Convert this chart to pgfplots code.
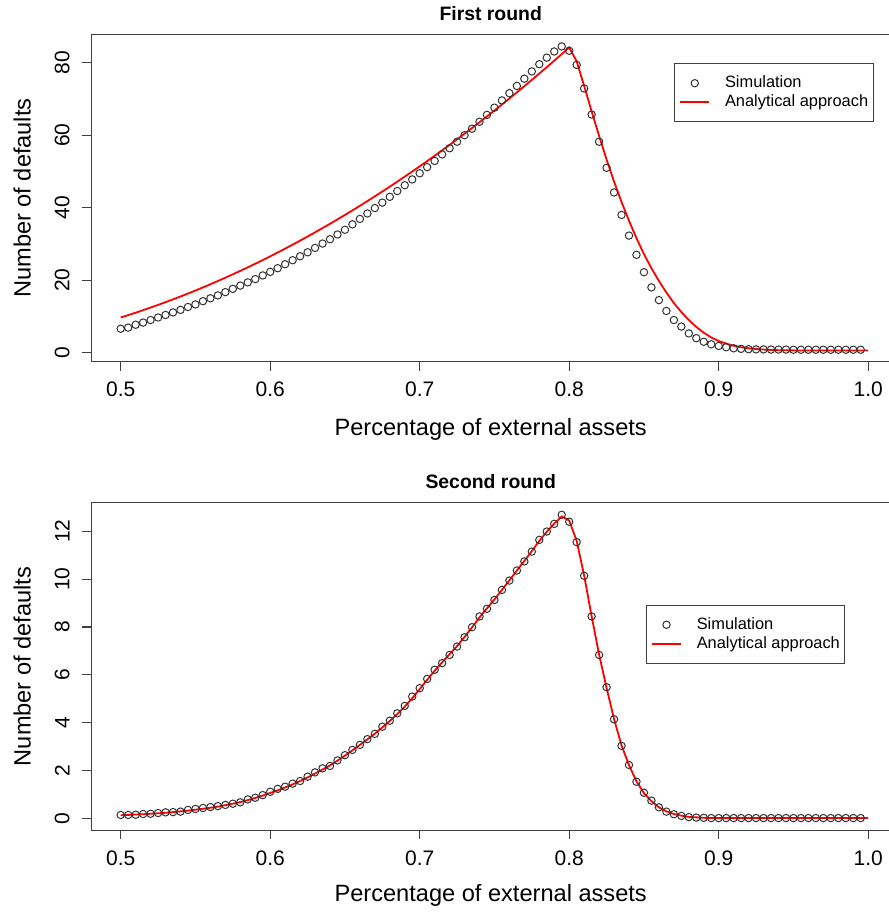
\documentclass[border=0pt]{standalone}
\usepackage{pgfplots}
\pgfplotsset{compat=1.18}
\usepackage{pgfplotstable}
\usepackage{fontspec}
\setmainfont{Liberation Sans}

\pgfplotstableread{
x y
0.500 6.6
0.505 6.9
0.510 7.7
0.515 8.3
0.520 9.0
0.525 9.7
0.530 10.4
0.535 11.1
0.540 11.8
0.545 12.6
0.550 13.3
0.555 14.2
0.560 15.0
0.565 15.8
0.570 16.7
0.575 17.6
0.580 18.5
0.585 19.4
0.590 20.3
0.595 21.3
0.600 22.3
0.605 23.3
0.610 24.4
0.615 25.5
0.620 26.6
0.625 27.7
0.630 28.9
0.635 30.1
0.640 31.3
0.645 32.6
0.650 33.9
0.655 35.4
0.660 36.9
0.665 38.4
0.670 39.9
0.675 41.4
0.680 43.0
0.685 44.6
0.690 46.2
0.695 47.8
0.700 49.5
0.705 51.2
0.710 52.9
0.715 54.7
0.720 56.4
0.725 58.2
0.730 60.0
0.735 61.8
0.740 63.7
0.745 65.6
0.750 67.6
0.755 69.6
0.760 71.6
0.765 73.6
0.770 75.6
0.775 77.6
0.780 79.6
0.785 81.4
0.790 83.1
0.795 84.5
0.800 83.3
0.805 79.4
0.810 72.9
0.815 65.7
0.820 58.2
0.825 51.0
0.830 44.2
0.835 38.0
0.840 32.3
0.845 27.0
0.850 22.2
0.855 18.0
0.860 14.5
0.865 11.5
0.870 9.0
0.875 7.2
0.880 5.3
0.885 4.0
0.890 3.0
0.895 2.3
0.900 1.85
0.905 1.5
0.910 1.2
0.915 1.05
0.920 0.95
0.925 0.9
0.930 0.9
0.935 0.85
0.940 0.85
0.945 0.85
0.950 0.8
0.955 0.8
0.960 0.8
0.965 0.8
0.970 0.8
0.975 0.8
0.980 0.8
0.985 0.8
0.990 0.8
0.995 0.8
}\simA

\pgfplotstableread{
x y
0.500 9.70
0.505 10.35
0.510 11.03
0.515 11.72
0.520 12.44
0.525 13.17
0.530 13.93
0.535 14.70
0.540 15.50
0.545 16.31
0.550 17.14
0.555 18.00
0.560 18.87
0.565 19.77
0.570 20.68
0.575 21.61
0.580 22.57
0.585 23.54
0.590 24.53
0.595 25.55
0.600 26.58
0.605 27.63
0.610 28.70
0.615 29.80
0.620 30.91
0.625 32.04
0.630 33.19
0.635 34.37
0.640 35.56
0.645 36.77
0.650 38.00
0.655 39.25
0.660 40.52
0.665 41.82
0.670 43.13
0.675 44.46
0.680 45.81
0.685 47.18
0.690 48.57
0.695 49.98
0.700 51.41
0.705 52.86
0.710 54.33
0.715 55.82
0.720 57.33
0.725 58.86
0.730 60.41
0.735 61.98
0.740 63.57
0.745 65.18
0.750 66.81
0.755 68.46
0.760 70.13
0.765 71.82
0.770 73.53
0.775 75.26
0.780 77.01
0.785 78.78
0.790 80.56
0.795 82.37
0.800 84.20
0.805 80.4
0.810 73.6
0.815 66.6
0.820 59.8
0.825 53.3
0.830 47.2
0.835 41.6
0.840 36.4
0.845 31.6
0.850 27.2
0.855 23.3
0.860 19.8
0.865 16.6
0.870 13.7
0.875 11.2
0.880 9.0
0.885 7.1
0.890 5.5
0.895 4.2
0.900 3.2
0.905 2.5
0.910 1.9
0.915 1.5
0.920 1.2
0.925 1.0
0.930 0.85
0.935 0.75
0.940 0.68
0.945 0.64
0.950 0.62
0.955 0.60
0.960 0.60
0.965 0.60
0.970 0.60
0.975 0.60
0.980 0.60
0.985 0.60
0.990 0.60
0.995 0.60
1.000 0.60
}\anaA

\pgfplotstableread{
x y
0.500 0.14
0.505 0.14
0.510 0.15
0.515 0.18
0.520 0.19
0.525 0.22
0.530 0.25
0.535 0.26
0.540 0.28
0.545 0.35
0.550 0.39
0.555 0.43
0.560 0.47
0.565 0.51
0.570 0.56
0.575 0.61
0.580 0.67
0.585 0.79
0.590 0.86
0.595 0.97
0.600 1.11
0.605 1.23
0.610 1.32
0.615 1.45
0.620 1.56
0.625 1.74
0.630 1.92
0.635 2.09
0.640 2.19
0.645 2.42
0.650 2.64
0.655 2.86
0.660 3.07
0.665 3.31
0.670 3.53
0.675 3.83
0.680 4.08
0.685 4.39
0.690 4.70
0.695 5.09
0.700 5.44
0.705 5.83
0.710 6.21
0.715 6.49
0.720 6.83
0.725 7.18
0.730 7.57
0.735 7.99
0.740 8.44
0.745 8.76
0.750 9.13
0.755 9.55
0.760 9.94
0.765 10.36
0.770 10.74
0.775 11.15
0.780 11.64
0.785 11.99
0.790 12.31
0.795 12.69
0.800 12.40
0.805 11.55
0.810 10.14
0.815 8.44
0.820 6.83
0.825 5.48
0.830 4.14
0.835 3.03
0.840 2.23
0.845 1.53
0.850 1.07
0.855 0.74
0.860 0.46
0.865 0.28
0.870 0.17
0.875 0.10
0.880 0.05
0.885 0.03
0.890 0.02
0.895 0.01
0.900 0.01
0.905 0.01
0.910 0.01
0.915 0.01
0.920 0.01
0.925 0.01
0.930 0.01
0.935 0.01
0.940 0.01
0.945 0.01
0.950 0.01
0.955 0.01
0.960 0.01
0.965 0.01
0.970 0.01
0.975 0.01
0.980 0.01
0.985 0.01
0.990 0.01
0.995 0.01
}\simB

\pgfplotstableread{
x y
0.500 0.13
0.505 0.14
0.510 0.16
0.515 0.17
0.520 0.19
0.525 0.21
0.530 0.23
0.535 0.26
0.540 0.29
0.545 0.32
0.550 0.36
0.555 0.40
0.560 0.44
0.565 0.49
0.570 0.55
0.575 0.61
0.580 0.68
0.585 0.76
0.590 0.85
0.595 0.95
0.600 1.06
0.605 1.17
0.610 1.29
0.615 1.42
0.620 1.56
0.625 1.71
0.630 1.87
0.635 2.04
0.640 2.21
0.645 2.41
0.650 2.62
0.655 2.84
0.660 3.07
0.665 3.30
0.670 3.54
0.675 3.80
0.680 4.07
0.685 4.36
0.690 4.67
0.695 5.02
0.700 5.40
0.705 5.79
0.710 6.17
0.715 6.52
0.720 6.86
0.725 7.20
0.730 7.58
0.735 7.98
0.740 8.40
0.745 8.78
0.750 9.15
0.755 9.55
0.760 9.95
0.765 10.36
0.770 10.76
0.775 11.17
0.780 11.60
0.785 11.98
0.790 12.32
0.795 12.62
0.800 12.45
0.805 11.60
0.810 10.15
0.815 8.45
0.820 6.85
0.825 5.45
0.830 4.15
0.835 3.05
0.840 2.22
0.845 1.55
0.850 1.05
0.855 0.72
0.860 0.46
0.865 0.29
0.870 0.18
0.875 0.11
0.880 0.06
0.885 0.04
0.890 0.02
0.895 0.015
0.900 0.01
0.905 0.01
0.910 0.01
0.915 0.01
0.920 0.01
0.925 0.01
0.930 0.01
0.935 0.01
0.940 0.01
0.945 0.01
0.950 0.01
0.955 0.01
0.960 0.01
0.965 0.01
0.970 0.01
0.975 0.01
0.980 0.01
0.985 0.01
0.990 0.01
0.995 0.01
1.000 0.01
}\anaB

\pgfplotsset{
  rplot/.style={
    scale only axis, width=399.6pt, height=163.8pt,
    xmin=0.4802, xmax=1.0148,
    axis line style={black!75, line width=0.6pt},
    tick align=outside, major tick length=4.5pt,
    tick style={black!75, line width=0.6pt},
    xtick pos=bottom, ytick pos=left,
    xtick={0.5,0.6,0.7,0.8,0.9,1.0},
    /pgf/number format/assume math mode=true,
    xticklabel style={font=\fontsize{10.5}{12}\selectfont, inner sep=0pt,
      /pgf/number format/.cd, fixed, fixed zerofill, precision=1},
    yticklabel style={font=\fontsize{10.5}{12}\selectfont, inner sep=0pt, rotate=90, anchor=south},
    xticklabel shift=5.4pt,
    yticklabel shift=6pt,
    xlabel={Percentage of external assets},
    ylabel={Number of defaults},
    ylabel style={font=\fontsize{11.8}{14}\selectfont, at={(axis description cs:-0.0863,0.5)}, anchor=center, rotate=0},
    title style={font=\bfseries\fontsize{9.7}{11}\selectfont, at={(axis description cs:0.5,1)}, anchor=center, yshift=4.3pt},
    legend cell align=left,
    legend style={anchor=north west, draw=black!75, line width=0.5pt,
      font=\fontsize{8.2}{9.5}\selectfont, inner xsep=2.5pt, inner ysep=5.5pt,
      row sep=1pt, nodes={inner xsep=0pt, inner ysep=0.5pt},
      /tikz/every odd column/.append style={column sep=7.5pt}},
  },
  simstyle/.style={only marks, mark=o, mark size=1.85pt, black!80,
    mark options={line width=0.5pt},
    legend image code/.code={\draw[##1] plot coordinates {(7.17pt,0pt)};}},
  anastyle/.style={red, line width=0.9pt, no marks,
    legend image code/.code={\draw[##1] (0pt,0pt) -- (14.35pt,0pt);}},
}

\begin{document}
\begin{tikzpicture}
\begin{axis}[rplot, at={(45.55pt,275.55pt)}, anchor=south west,
  ymin=-2.55, ymax=87.85, ytick={0,20,40,60,80},
  title={First round},
  xlabel style={font=\fontsize{11.8}{14}\selectfont, at={(axis description cs:0.5,0)}, anchor=center, yshift=-34pt},
  legend style={at={(0.7294,0.9115)}}]
\addplot[simstyle] table[x=x,y=y] {\simA};
\addlegendentry{Simulation}
\addplot[anastyle] table[x=x,y=y] {\anaA};
\addlegendentry{Analytical approach}
\end{axis}
\begin{axis}[rplot, at={(45.55pt,41.4pt)}, anchor=south west,
  ymin=-0.497, ymax=13.2, ytick={0,2,4,6,8,10,12},
  title={Second round},
  xlabel style={font=\fontsize{11.8}{14}\selectfont, at={(axis description cs:0.5,0)}, anchor=center, yshift=-32.5pt},
  legend style={at={(0.694,0.688)}}]
\addplot[simstyle] table[x=x,y=y] {\simB};
\addlegendentry{Simulation}
\addplot[anastyle] table[x=x,y=y] {\anaB};
\addlegendentry{Analytical approach}
\end{axis}
\pgfresetboundingbox
\useasboundingbox (0pt,0pt) rectangle (444pt,456.5pt);
\end{tikzpicture}
\end{document}
